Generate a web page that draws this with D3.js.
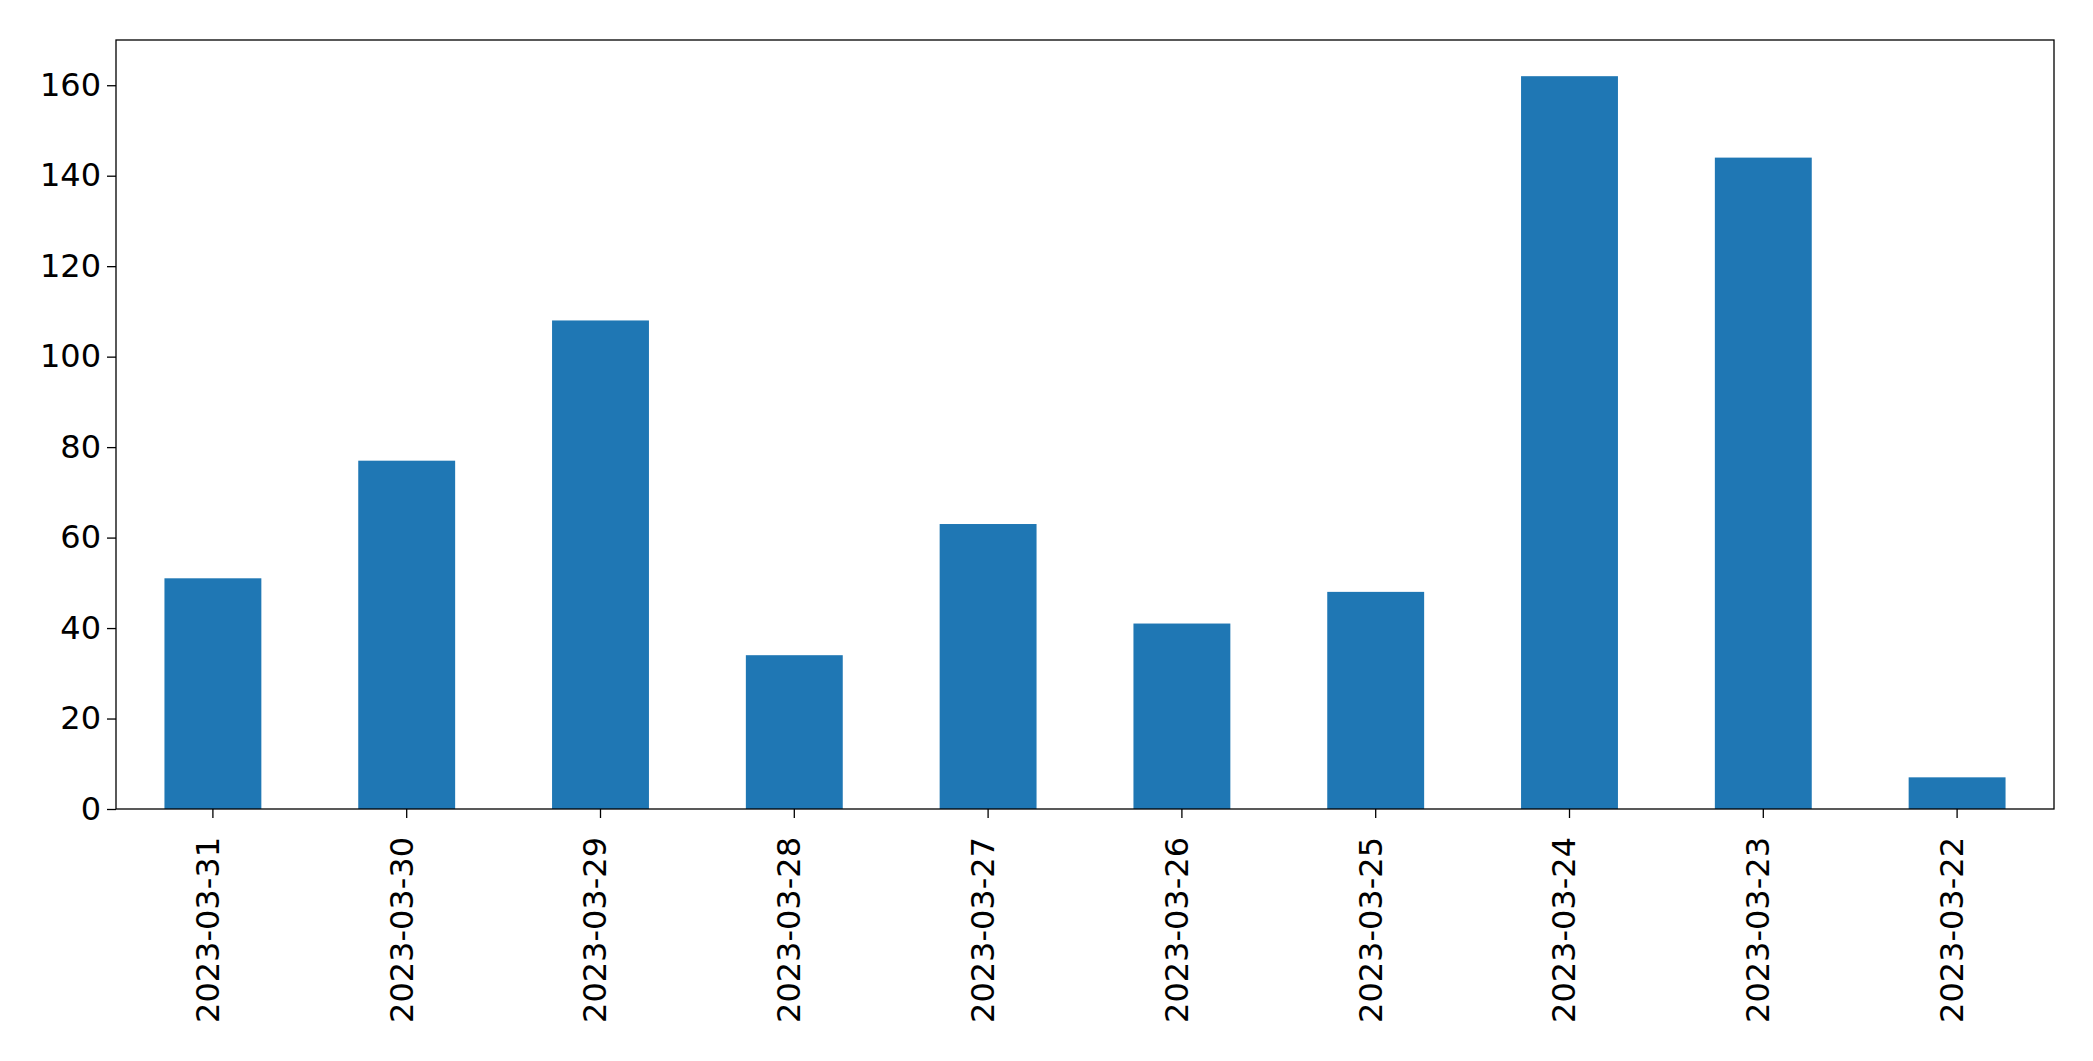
<!DOCTYPE html><html><head><meta charset="utf-8"><script src="https://cdn.jsdelivr.net/npm/d3@7"></script>
<style>body{margin:0;background:#fff}</style></head><body><svg id="c" width="2093" height="1061"></svg>
<script>
const categories=["2023-03-31","2023-03-30","2023-03-29","2023-03-28","2023-03-27","2023-03-26","2023-03-25","2023-03-24","2023-03-23","2023-03-22"];
const values=[51,77,108,34,63,41,48,162,144,7];
const yTicks=[0,20,40,60,80,100,120,140,160];
const m={l:116,r:2093-2054,t:40,b:1061-809};
const svg=d3.select("#c");
const W=2093-m.l-m.r,H=1061-m.t-m.b;
const g=svg.append("g").attr("transform",`translate(${m.l},${m.t})`);
const x=d3.scaleBand().domain(categories).range([0,W]).paddingInner(0.5).paddingOuter(0.25);
const y=d3.scaleLinear().domain([0,170]).range([H,0]);
g.selectAll("rect.b").data(values).join("rect").attr("class","b").attr("x",(d,i)=>x(categories[i])).attr("width",x.bandwidth()).attr("y",d=>y(d)).attr("height",d=>H-y(d)).attr("fill","#1f77b4");
const ya=g.append("g").call(d3.axisLeft(y).tickValues(yTicks).tickSize(9).tickPadding(6));
const xa=g.append("g").attr("transform",`translate(0,${H})`).call(d3.axisBottom(x).tickSize(9).tickPadding(6));
xa.selectAll("text").attr("transform","rotate(-90)").attr("text-anchor","end").attr("dx","-0.5em").attr("dy","-0.1em").attr("y",0).attr("x",-12).style("dominant-baseline","middle");
[ya,xa].forEach(a=>{a.selectAll("text").attr("font-family","DejaVu Sans").attr("font-size",32).attr("fill","#000");a.selectAll("line").attr("stroke","#000").attr("stroke-width",1.3);a.select(".domain").remove();});
g.append("rect").attr("width",W).attr("height",H).attr("fill","none").attr("stroke","#000").attr("stroke-width",1.3);
</script></body></html>
